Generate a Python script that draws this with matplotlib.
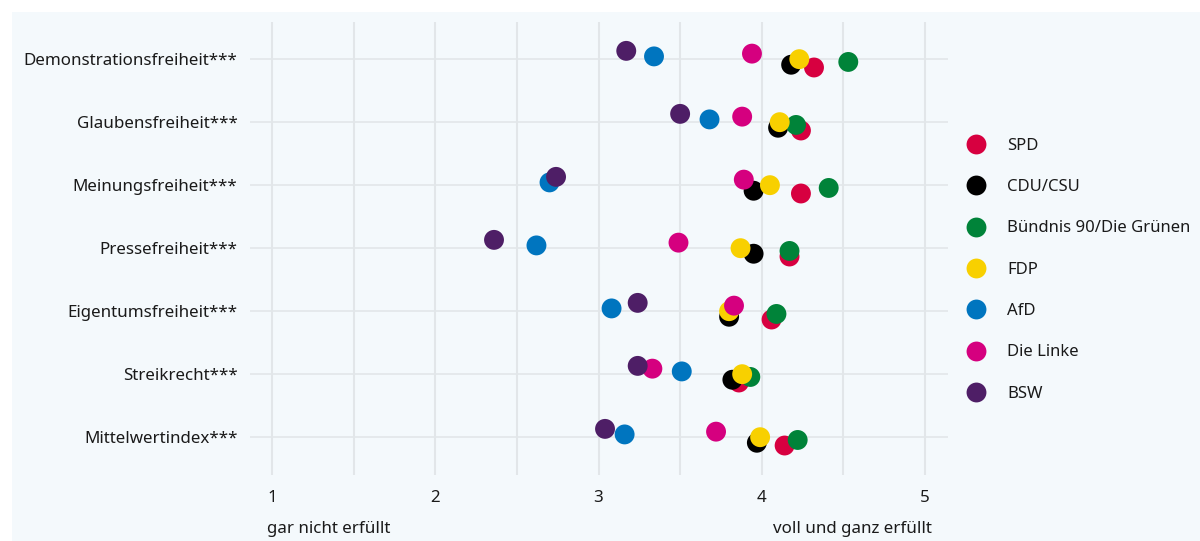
import matplotlib
matplotlib.use("Agg")
import matplotlib.pyplot as plt
from matplotlib.patches import Rectangle
from matplotlib.lines import Line2D
import numpy as np

plt.rcParams['font.family'] = ['Noto Sans', 'DejaVu Sans']

categories = ["Demonstrationsfreiheit***", "Glaubensfreiheit***", "Meinungsfreiheit***",
              "Pressefreiheit***", "Eigentumsfreiheit***", "Streikrecht***", "Mittelwertindex***"]
parties = ["SPD", "CDU/CSU", "Bündnis 90/Die Grünen", "FDP", "AfD", "Die Linke", "BSW"]
colors = ["#d70040", "#000000", "#008339", "#f8d000", "#0075bf", "#d5007f", "#4e1e66"]

spd   = [4.32, 4.24, 4.24, 4.17, 4.06, 3.86, 4.14]
cdu   = [4.18, 4.10, 3.95, 3.95, 3.80, 3.82, 3.97]
gruen = [4.53, 4.21, 4.41, 4.17, 4.09, 3.93, 4.22]
fdp   = [4.23, 4.11, 4.05, 3.87, 3.80, 3.88, 3.99]
afd   = [3.34, 3.68, 2.70, 2.62, 3.08, 3.51, 3.16]
linke = [3.94, 3.88, 3.89, 3.49, 3.83, 3.33, 3.72]
bsw   = [3.17, 3.50, 2.74, 2.36, 3.24, 3.24, 3.04]
series = [spd, cdu, gruen, fdp, afd, linke, bsw]

xticks = [1, 2, 3, 4, 5]
xlabel_low = "gar nicht erfüllt"
xlabel_high = "voll und ganz erfüllt"

W, H = 1200, 541
fig = plt.figure(figsize=(W / 100, H / 100), dpi=100)
fig.patch.set_facecolor("white")
bg = "#f4f9fc"
fig.patches.append(Rectangle((12 / W, 0), 1, 1 - 12 / H, transform=fig.transFigure,
                             facecolor=bg, edgecolor="none", zorder=-10))

ax = fig.add_axes([250 / W, 1 - 475 / H, 698 / W, 453 / H])
ax.set_zorder(1)
ax.set_facecolor(bg)
for s in ax.spines.values():
    s.set_visible(False)

y = np.arange(len(categories))
offsets = [3, 2, 1, 0, -1, -2, -3]
dy = 0.044
for vals, c, off, name in zip(series, colors, offsets, parties):
    ax.scatter(vals, y + off * dy, s=205, color=c, edgecolors="none", zorder=3, label=name)

ax.set_xlim(1 - 22 / 163.4, 5 + 23 / 163.4)
ax.set_ylim(6.6, -0.59)
ax.set_yticks(y)
ax.set_yticklabels(categories, fontsize=12.2, color="#1a1a1a")
ax.set_xticks(xticks)
ax.set_xticklabels([str(t) for t in xticks], fontsize=12.2, color="#1a1a1a")
ax.set_xticks([1.5, 2.5, 3.5, 4.5], minor=True)
ax.tick_params(axis="both", which="both", length=0)
ax.tick_params(axis="y", pad=9)
ax.tick_params(axis="x", pad=11)
ax.grid(True, which="both", axis="x", color="#e2e6e9", linewidth=1.5, zorder=0)
ax.grid(True, which="major", axis="y", color="#e2e6e9", linewidth=1.2, zorder=0)
ax.set_axisbelow(True)

ax.text(1 - 5 / 163.4, -0.12, xlabel_low, transform=ax.get_xaxis_transform(),
        ha="left", va="center", fontsize=12.2, color="#1a1a1a")
ax.text(5 + 7 / 163.4, -0.12, xlabel_high, transform=ax.get_xaxis_transform(),
        ha="right", va="center", fontsize=12.2, color="#1a1a1a")

handles = [Line2D([0], [0], marker="o", linestyle="none", markersize=14.3,
                  markerfacecolor=c, markeredgecolor="none") for c in colors]
leg = fig.legend(handles, parties, loc="upper left", bbox_to_anchor=(959 / W, 1 - 131 / H),
                 frameon=False, fontsize=12, labelspacing=1.52, handletextpad=1.3,
                 handlelength=1.2, borderaxespad=0)
for t in leg.get_texts():
    t.set_color("#1a1a1a")

fig.savefig("out.png", dpi=100, facecolor="white")
